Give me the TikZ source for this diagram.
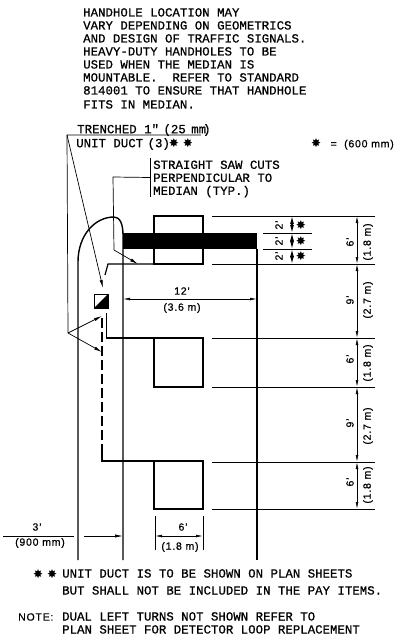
\documentclass[tikz,border=0pt]{standalone}
\usepackage{fontspec}
\setmainfont{Liberation Sans}[LetterSpace=7.5,FakeBold=0.6]
\newfontfamily\notefont{Liberation Mono}[FakeBold=0.7]
\newfontfamily\starfont{DejaVu Sans}
\usetikzlibrary{positioning, calc, arrows.meta}

\tikzset{
    note/.style={font=\notefont\fontsize{12.4}{13}\selectfont, inner sep=0pt, align=left, anchor=west, text=black},
    dimtext/.style={font=\fontsize{10.5}{13}\selectfont, inner sep=0pt},
    sidetext/.style={dimtext, rotate=90},
    road/.style={line width=1.4pt},
    hbox/.style={line width=1.2pt},
    thin line/.style={line width=0.7pt},
    dimline/.style={line width=0.7pt, {Latex[length=7pt,width=2.8pt]}-{Latex[length=7pt,width=2.8pt]}},
    leader/.style={line width=0.7pt, -{Latex[length=8pt,width=3.2pt]}},
}
\newcommand{\stars}{\makebox[14pt]{\starfont\fontsize{12}{12}\selectfont ✸}}

\begin{document}
\begin{tikzpicture}[x=1pt,y=-1pt]
        \useasboundingbox (0,0) rectangle (411,642);

        % notes
        \node[note, anchor=north west] (handholenote) at (83,8) {HANDHOLE LOCATION MAY\\VARY DEPENDING ON GEOMETRICS\\AND DESIGN OF TRAFFIC SIGNALS.\\HEAVY-DUTY HANDHOLES TO BE\\USED WHEN THE MEDIAN IS\\MOUNTABLE.\ \ REFER TO STANDARD\\814001 TO ENSURE THAT HANDHOLE\\[1pt]FITS IN MEDIAN.};
        \node[note] (trenched) at (77,130) {TRENCHED 1"\kern-3pt\ (25\kern-2pt\ mm\kern-3pt)};
        \node[note] (unitduct) at (76,144) {UNIT DUCT\kern-3pt\ (3)\kern-3pt\stars\stars};
        \node[dimtext, anchor=west] (starkey) at (309,144) {\stars\ \ =\ \ (600 mm)};
        \node[note] (sawcuts) at (153,179) {STRAIGHT SAW CUTS\\PERPENDICULAR TO\\MEDIAN (TYP.)};
        \node[dimtext, anchor=west] (ductstars) at (31,574) {\stars\stars};
        \node[note, anchor=north west] (ductnote) at (62,569) {UNIT DUCT IS TO BE SHOWN ON PLAN SHEETS\\[4pt]BUT SHALL NOT BE INCLUDED IN THE PAY ITEMS.};
        \node[dimtext, anchor=west] (notehead) at (18,617) {NOTE:};
        \node[note, anchor=north west] (notebody) at (62,612) {DUAL LEFT TURNS NOT SHOWN REFER TO\\PLAN SHEET FOR DETECTOR LOOP REPLACEMENT};

        % saw cut
        \fill (123,233) rectangle (257,249);

        % the median
        \coordinate (L) at (78,560);
        \coordinate (R) at (123,560);
        \coordinate (F) at (257,560);
        \draw[road] (L) -- (78,262) .. controls (78,235) and (95,217) .. (114,217) .. controls (120,217) and (123,224) .. (123,235) -- (R);
        \draw[road] (257,249) -- (F);

        % detector loops
        \draw[hbox] (154,216) rectangle (203,264);
        \draw[hbox] (154,338) rectangle (203,387);
        \draw[hbox] (154,461) rectangle (203,509);

        % extension lines
        \foreach \y in {216,264,338,387,462,509}
            \draw[thin line] (212,\y) -- (375,\y);
        \foreach \y in {233,249}
            \draw[thin line] (263,\y) -- (312,\y);

        % handhole
        \coordinate (HH) at (94,294);
        \coordinate (HHb) at (108,308);
        \draw[line width=1pt] (HH) rectangle (HHb);
        \fill (94,308) -- (108,294) -- (108,308) -- cycle;

        % ducts
        \draw[hbox] (105,275) -- (108,264) -- (154,264);
        \draw[hbox] (106.5,313) -- (106.5,338) -- (154,338);
        \draw[hbox, dash pattern=on 10pt off 4pt] (102,318) -- (102,452);
        \draw[hbox] (102,452) -- (102,461) -- (154,461);

        % leaders
        \coordinate (T) at (67,135);
        \coordinate (J) at (68,333);
        \coordinate (S) at (113,177);
        \draw[thin line] (201,135) -- (T) -- (J);
        \draw[leader] (T) -- (103,288);
        \draw[leader] (J) -- (102,316);
        \draw[leader] (J) -- (102,352);
        \coordinate (Sa) at (150,158);
        \coordinate (Sb) at (150,197);
        \draw[thin line] (Sa) -- (Sb);
        \draw[leader] ($ (Sa)!.5!(Sb) $) -- (S) -- (114,250) -- (138,264);

        % 12 ft
        \draw[dimline] (123,299) -- (257,299);
        \node[dimtext] (twelve) at (182,291) {12'};
        \node[dimtext] (twelvem) at (182,308) {(3.6 m)};

        % 3 ft
        \coordinate (Da) at (84,536);
        \draw[thin line] (3,536) -- (74,536);
        \draw[leader] (Da) -- (123,536);
        \node[dimtext] (three) at (37,527) {3'};
        \node[dimtext] (threem) at (40,543) {(900 mm)};

        % 6 ft
        \draw[thin line] (155,516) -- (155,550);
        \draw[thin line] (203,516) -- (203,550);
        \draw[dimline] (155,536) -- (203,536);
        \node[dimtext] (six) at (183,527) {6'};
        \node[dimtext] (sixm) at (180,547) {(1.8 m)};

        % right side chain
        \foreach \a/\b in {216/264,264/338,338/387,387/462,462/509}
            \draw[dimline] (357,\a) -- (357,\b);
        \foreach \y/\t in {242/6',300/9',359/6',423/9',482/6'}
            \node[sidetext] at (350,\y) {\t};
        \foreach \y/\t in {242/(1.8 m),300/(2.7 m),363/(1.8 m),426/(2.7 m),485/(1.8 m)}
            \node[sidetext] at (368,\y) {\t};

        % saw cut spacing
        \foreach \a/\b in {216/233,233/249,249/264}
            \draw[line width=1.1pt, {Latex[length=8pt,width=4pt]}-{Latex[length=8pt,width=4pt]}] (292,\a) -- (292,\b);
        \foreach \y in {225,241,256} {
            \node[sidetext] at (279,\y) {2'};
            \node[dimtext] at (301,\y) {\stars};
        }
    \end{tikzpicture}
\end{document}
